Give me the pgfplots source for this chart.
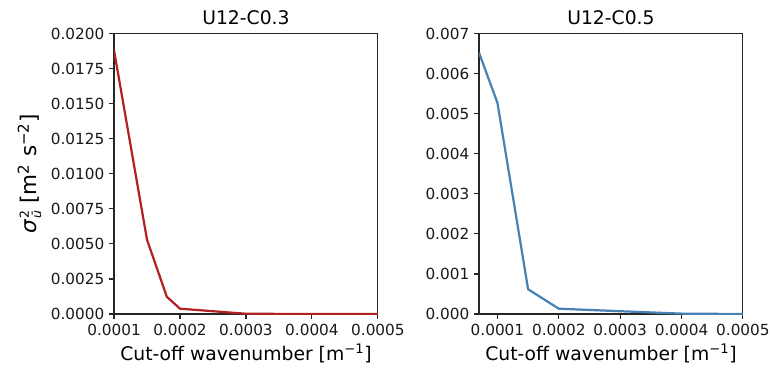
\documentclass[border=0pt]{standalone}
\usepackage{fontspec}
\setmainfont{DejaVu Sans}
\usepackage{pgfplots}
\pgfplotsset{compat=1.18}
\definecolor{redline}{RGB}{178,34,34}
\definecolor{blueline}{RGB}{70,130,180}
\pgfplotsset{
  mystyle/.style={
    scale only axis,
    width=190pt, height=202pt,
    anchor=south west,
    axis line style={line width=0.8pt, black!85},
    xtick pos=bottom, ytick pos=left,
    tick align=outside,
    major tick length=3.5pt,
    every tick/.style={line width=0.8pt, black!85},
    scaled ticks=false,
    /pgf/number format/assume math mode=true,
    tick label style={font=\fontsize{11}{13}\selectfont, text=black!90},
    xtick={0.0001,0.0002,0.0003,0.0004,0.0005},
    xticklabel style={/pgf/number format/.cd, fixed, fixed zerofill, precision=4},
    xmax=0.0005,
    ymin=0,
    title style={font=\fontsize{13.5}{15}\selectfont, yshift=-3pt},
    xlabel style={font=\fontsize{13.5}{15}\selectfont, yshift=1pt},
    xlabel={Cut-off wavenumber [m\textsuperscript{−1}]},
  }
}
\begin{document}
\begin{tikzpicture}
\useasboundingbox (0,0) rectangle (554.4pt,267.1pt);
\begin{axis}[mystyle, at={(82.1pt,41.0pt)},
  xmin=0.0001, ymax=0.02,
  ytick={0,0.0025,0.005,0.0075,0.01,0.0125,0.015,0.0175,0.02},
  yticklabel style={/pgf/number format/.cd, fixed, fixed zerofill, precision=4},
  title={U12-C0.3},
  ylabel style={font=\fontsize{15.5}{17}\selectfont},
  ylabel={\textit{σ}$^{\mbox{\small 2}}_{\mbox{\small\itshape ū}}$ [m\textsuperscript{2} s\textsuperscript{−2}]},
]
\addplot[redline, line width=1.6pt, no marks] coordinates {
(0.0001,0.0188) (0.00015,0.0053) (0.00018,0.00123) (0.0002,0.00038)
(0.0003,0.00002) (0.0004,0.0) (0.0005,0.0)};
\end{axis}
\begin{axis}[mystyle, at={(344.9pt,41.0pt)},
  xmin=0.00007, ymax=0.007,
  ytick={0,0.001,0.002,0.003,0.004,0.005,0.006,0.007},
  yticklabel style={/pgf/number format/.cd, fixed, fixed zerofill, precision=3},
  title={U12-C0.5},
]
\addplot[blueline, line width=1.6pt, no marks] coordinates {
(0.00007,0.00652) (0.0001,0.00527) (0.00015,0.000617) (0.0002,0.000133)
(0.0003,0.00007) (0.0004,0.00001) (0.0005,0.0)};
\end{axis}
\end{tikzpicture}
\end{document}
